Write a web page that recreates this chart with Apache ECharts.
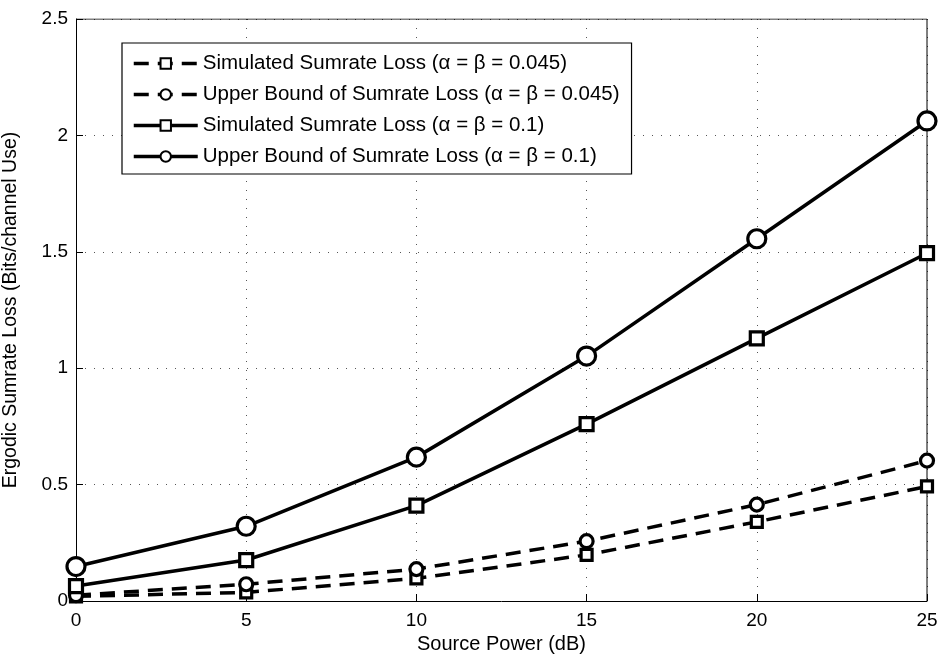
<!DOCTYPE html>
<html><head><meta charset="utf-8">
<script src="https://cdn.jsdelivr.net/npm/echarts@6/dist/echarts.min.js"></script>
<style>html,body{margin:0;padding:0;background:#fff}#c{width:940px;height:654px}</style>
</head><body><div id="c"></div>
<script>
const xValues = [0, 5, 10, 15, 20, 25];
const simLoss045 = [0.02, 0.037, 0.097, 0.198, 0.34, 0.492];
const boundLoss045 = [0.025, 0.072, 0.137, 0.257, 0.414, 0.603];
const simLoss01 = [0.064, 0.176, 0.41, 0.76, 1.128, 1.494];
const boundLoss01 = [0.148, 0.321, 0.618, 1.052, 1.556, 2.062];
const seriesNames = [
  'Simulated Sumrate Loss (\u03b1 = \u03b2 = 0.045)',
  'Upper Bound of Sumrate Loss (\u03b1 = \u03b2 = 0.045)',
  'Simulated Sumrate Loss (\u03b1 = \u03b2 = 0.1)',
  'Upper Bound of Sumrate Loss (\u03b1 = \u03b2 = 0.1)'
];
const font = 'Liberation Sans, Arial, Helvetica, sans-serif';
function pairs(arr){ return xValues.map((x,i)=>[x,arr[i]]); }
function mk(name, data, dashed, symbol, size){
  return {
    name, type:'line', data:pairs(data), symbol, symbolSize:size, clip:false,
    lineStyle:{color:'#000', width:3.5, type: dashed ? [15,9] : 'solid'},
    itemStyle:{color:'#fff', borderColor:'#000', borderWidth:3.2},
    emphasis:{disabled:true}, animation:false, z: 3
  };
}
const chart = echarts.init(document.getElementById('c'));
chart.setOption({
  animation:false,
  grid:{left:76, right:13, top:19, bottom:53, outerBoundsMode:'none', containLabel:false},
  xAxis:{type:'value', min:0, max:25, interval:5,
    name:'Source Power (dB)', nameLocation:'middle', nameGap:31,
    nameTextStyle:{fontFamily:font, fontSize:20, color:'#000'},
    axisLine:{show:true, lineStyle:{color:'#000', width:1}},
    axisTick:{inside:true, length:7, lineStyle:{color:'#000'}},
    axisLabel:{fontFamily:font, fontSize:19, color:'#000', margin:10},
    splitLine:{show:true, lineStyle:{color:'#555', type:[1,8], width:1}}
  },
  yAxis:{type:'value', min:0, max:2.5, interval:0.5,
    name:'Ergodic Sumrate Loss (Bits/channel Use)', nameLocation:'middle', nameGap:55,
    nameTextStyle:{fontFamily:font, fontSize:19.5, color:'#000'},
    axisLine:{show:true, lineStyle:{color:'#000', width:1}},
    axisTick:{inside:true, length:7, lineStyle:{color:'#000'}},
    axisLabel:{fontFamily:font, fontSize:19, color:'#000', margin:8,
      formatter:v=>String(v)},
    splitLine:{show:true, lineStyle:{color:'#555', type:[1,8], width:1}}
  },
  legend:{
    orient:'vertical', left:122, top:43, padding:[10,12,7,10],
    backgroundColor:'#fff', borderColor:'#000', borderWidth:1.2,
    itemWidth:64, itemHeight:13, itemGap:10,
    lineStyle:{width:3.5},
    textStyle:{fontFamily:font, fontSize:20.5, color:'#000'},
    data:seriesNames
  },
  series:[
    mk(seriesNames[0], simLoss045, true, 'rect', 11),
    mk(seriesNames[1], boundLoss045, true, 'circle', 13),
    mk(seriesNames[2], simLoss01, false, 'rect', 13),
    mk(seriesNames[3], boundLoss01, false, 'circle', 18),
    {type:'line', data:[[0,2.5],[25,2.5],[25,0]], symbol:'none', silent:true,
     lineStyle:{color:'#000', width:1}, z:2}
  ]
});
</script></body></html>
